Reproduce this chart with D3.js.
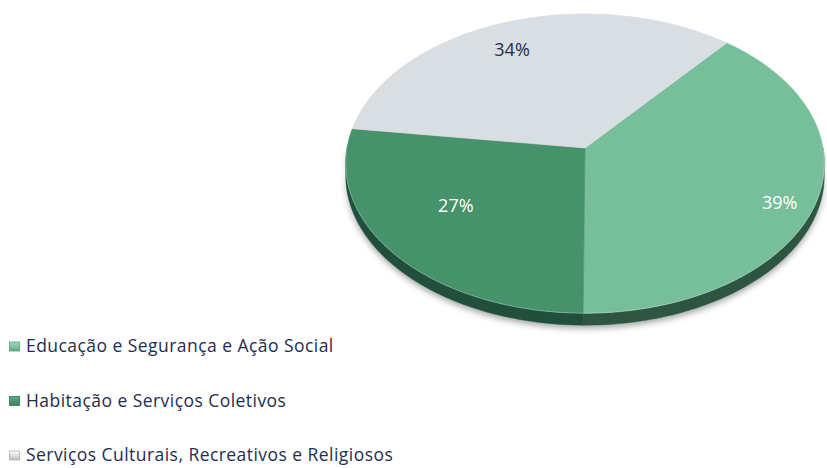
<!DOCTYPE html>
<html><head><meta charset="utf-8">
<script src="https://cdn.jsdelivr.net/npm/d3@7"></script>
<style>html,body{margin:0;padding:0;background:#fff;}svg{display:block;}</style>
</head><body>
<svg id="chart" width="827" height="468"></svg>
<script>
const categories = ["Educação e Segurança e Ação Social", "Habitação e Serviços Coletivos", "Serviços Culturais, Recreativos e Religiosos"];
const values = [39, 27, 34];
const labels = ["39%", "27%", "34%"];
const topColors = ["#77bf9a", "#46926b", "#d9dee2"];
const sideColors = ["#2f5543", "#22503a", "#9aa0a6"];
const labelColors = ["#ffffff", "#ffffff", "#1f2d4f"];
const labelFrac = [[0.84, 1.04], [0.67, 0.55], [0.93, 0.78]];

const FONT = "'Open Sans', 'Noto Sans', sans-serif";
const svg = d3.select("#chart");
const cx = 585, cy = 148, Rx = 238, Ry = 148, k = 0.104, depth = 12;
const firstAngle = 40 * Math.PI / 180;

function proj(theta, r = 1) {
  const s = 1 / (1 + k * Math.cos(theta) * r);
  return [cx + Rx * r * Math.sin(theta) * s, cy - Ry * r * Math.cos(theta) * s];
}

const pie = d3.pie().sort(null).value(d => d).startAngle(firstAngle).endAngle(firstAngle + 2 * Math.PI);
const arcs = pie(values);

const defs = svg.append("defs");
const f = defs.append("filter").attr("id", "shadow").attr("x", "-10%").attr("y", "-10%").attr("width", "120%").attr("height", "130%");
f.append("feGaussianBlur").attr("in", "SourceAlpha").attr("stdDeviation", 3);
f.append("feOffset").attr("dx", 0).attr("dy", 3).attr("result", "b");
f.append("feComponentTransfer").append("feFuncA").attr("type", "linear").attr("slope", 0.35);
const fm = f.append("feMerge"); fm.append("feMergeNode"); fm.append("feMergeNode").attr("in", "SourceGraphic");

const line = d3.line();
function arcPoints(a0, a1, r = 1) {
  const n = Math.max(4, Math.ceil((a1 - a0) / 0.02));
  return d3.range(n + 1).map(i => proj(a0 + (a1 - a0) * i / n, r));
}

const g = svg.append("g");
const sideG = g.append("g").attr("filter", "url(#shadow)");
arcs.forEach((a, i) => {
  const segs = [
    [Math.max(a.startAngle, Math.PI / 2), Math.min(a.endAngle, 3 * Math.PI / 2)],
    [Math.max(a.startAngle, Math.PI / 2 + 2 * Math.PI), Math.min(a.endAngle, 3 * Math.PI / 2 + 2 * Math.PI)]
  ];
  segs.forEach(([s, e]) => {
    if (e <= s) return;
    const top = arcPoints(s, e);
    const bot = top.slice().reverse().map(p => [p[0], p[1] + depth]);
    sideG.append("path").attr("d", line(top.concat(bot)) + "Z").attr("fill", sideColors[i])
      .attr("stroke", sideColors[i]).attr("stroke-width", 0.5);
  });
});
const topG = g.append("g");
arcs.forEach((a, i) => {
  const pts = [[cx, cy]].concat(arcPoints(a.startAngle, a.endAngle));
  topG.append("path").attr("d", line(pts) + "Z").attr("fill", topColors[i])
    .attr("stroke", topColors[i]).attr("stroke-width", 0.6);
});
g.append("path").attr("d", line(arcPoints(Math.PI / 2, 3 * Math.PI / 2)))
  .attr("fill", "none").attr("stroke", "#ffffff").attr("stroke-opacity", 0.25).attr("stroke-width", 1);

// labels
arcs.forEach((a, i) => {
  const mid = (a.startAngle + a.endAngle) / 2;
  const s = 1 / (1 + k * Math.cos(mid));
  const x = cx + Rx * Math.sin(mid) * s * labelFrac[i][0];
  const y = cy - Ry * Math.cos(mid) * s * labelFrac[i][1];
  g.append("text").attr("x", x).attr("y", y).attr("dy", "0.35em").attr("text-anchor", "middle")
    .attr("font-family", FONT).attr("font-size", 18)
    .attr("fill", labelColors[i]).text(labels[i]);
});

// legend
const legY = d3.scalePoint().domain(categories).range([346, 455]);
const lg = svg.append("g");
categories.forEach((c, i) => {
  const gid = "lg" + i;
  const grad = defs.append("linearGradient").attr("id", gid).attr("x1", 0).attr("y1", 0).attr("x2", 0).attr("y2", 1);
  grad.append("stop").attr("offset", 0).attr("stop-color", d3.color(topColors[i]).brighter(0.5));
  grad.append("stop").attr("offset", 1).attr("stop-color", d3.color(topColors[i]).darker(0.4));
  const y = legY(c);
  lg.append("rect").attr("x", 9.5).attr("y", y - 4).attr("width", 10).attr("height", 9)
    .attr("fill", `url(#${gid})`).attr("stroke", d3.color(topColors[i]).darker(0.6)).attr("stroke-width", 0.8);
  lg.append("text").attr("x", 26).attr("y", y).attr("dy", "0.35em")
    .attr("font-family", FONT).attr("font-size", 17.5).attr("letter-spacing", 0.45)
    .attr("fill", "#1f2d4f").text(c);
});
</script>
</body></html>
